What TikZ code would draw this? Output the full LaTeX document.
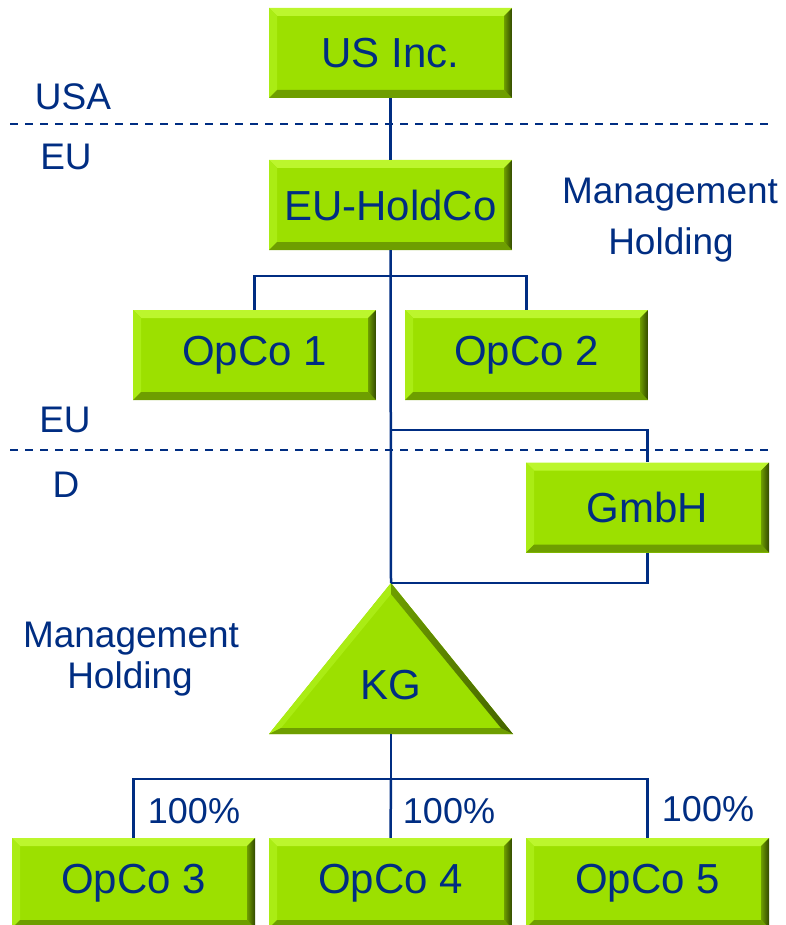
\documentclass[tikz,border=0pt]{standalone}
\usepackage{fontspec}
\setmainfont{Liberation Sans}
\usetikzlibrary{calc}
\definecolor{navy}{RGB}{0,45,130}
\definecolor{lime}{RGB}{156,224,0}
\definecolor{limelight}{RGB}{188,246,45}
\definecolor{limeleft}{RGB}{170,236,20}
\definecolor{limedark}{RGB}{50,72,0}
\definecolor{limebot}{RGB}{110,158,0}
\tikzset{
  bx/.style={minimum width=243pt, minimum height=90pt, inner sep=0pt, fill=lime, text=navy,
    font=\fontsize{42}{46}\selectfont,
    path picture={
      \coordinate (bnw) at (path picture bounding box.north west);
      \coordinate (bne) at (path picture bounding box.north east);
      \coordinate (bsw) at (path picture bounding box.south west);
      \coordinate (bse) at (path picture bounding box.south east);
      \fill[limelight] (bnw) -- (bne) -- ($(bne)+(-8pt,-8pt)$) -- ($(bnw)+(8pt,-8pt)$) -- cycle;
      \fill[limeleft] (bnw) -- ($(bnw)+(8pt,-8pt)$) -- ($(bsw)+(8pt,8pt)$) -- (bsw) -- cycle;
      \fill[limebot] (bsw) -- (bse) -- ($(bse)+(-8pt,8pt)$) -- ($(bsw)+(8pt,8pt)$) -- cycle;
      \shade[left color=limebot, right color=limedark] (bne) -- (bse) -- ($(bse)+(-8pt,8pt)$) -- ($(bne)+(-8pt,-8pt)$) -- cycle;
    }},
  lab/.style={text=navy, font=\fontsize{37}{42}\selectfont, inner sep=0pt, anchor=base},
  pct/.style={text=navy, font=\fontsize{36}{40}\selectfont, inner sep=0pt, anchor=base},
  conn/.style={draw=navy, line width=2.5pt},
  sep/.style={draw=navy, line width=2.3pt, dash pattern=on 8pt off 7pt}
}
\begin{document}
\begin{tikzpicture}[x=1pt,y=-1pt]
\useasboundingbox (0,0) rectangle (785,925);
% separators
\coordinate (s1a) at (10,124); \coordinate (s1b) at (770,124);
\coordinate (s2a) at (10,450); \coordinate (s2b) at (770,450);
\draw[sep] (s1a) -- (s1b);
\draw[sep] (s2a) -- (s2b);
% boxes
\node[bx] (us) at (390.5,53) {US Inc.};
\node[bx] (hold) at (390.5,205) {EU-HoldCo};
\node[bx] (op1) at (254.5,355) {OpCo 1};
\node[bx] (op2) at (526.5,355) {OpCo 2};
\node[bx] (gmbh) at (647.5,507.5) {GmbH};
\node[bx] (op3) at (133.5,883) {OpCo 3};
\node[bx] (op4) at (390.5,883) {OpCo 4};
\node[bx] (op5) at (647.5,883) {OpCo 5};
% KG triangle
\coordinate (kgapex) at (391,583);
\coordinate (kgl) at (269,734);
\coordinate (kgr) at (513,734);
\coordinate (kgbase) at (391,734);
\coordinate (ia) at (391,594);
\coordinate (il) at (281,728);
\coordinate (ir) at (501,728);
\fill[lime] (kgapex) -- (kgl) -- (kgr) -- cycle;
\fill[limeleft] (kgapex) -- (kgl) -- (il) -- (ia) -- cycle;
\fill[limebot] (kgl) -- (kgr) -- (ir) -- (il) -- cycle;
\shade[left color=limebot, right color=limedark!70!limebot] (kgapex) -- (kgr) -- (ir) -- (ia) -- cycle;
\node[text=navy, font=\fontsize{42}{46}\selectfont, inner sep=0pt] (kg) at (391,685) {KG};
% connectors
\coordinate (j1) at (391,276);
\coordinate (j2) at (391,430);
\coordinate (j3) at (391,779);
\draw[conn] (us.south) -- (hold.north);
\draw[conn] (hold.south) -- (kgapex);
\draw[conn] (op1.north) |- (j1) -| (op2.north);
\draw[conn] (j2) -| (gmbh.north);
\draw[conn] (gmbh.south) |- (kgapex);
\draw[conn] (kgbase) -- (j3);
\draw[conn] (op3.north) |- (j3) -| (op5.north);
\draw[conn] (j3) -- (op4.north);
% labels
\node[lab] (lusa) at (73,110) {USA};
\node[lab] (leu1) at (66,170) {EU};
\node[lab] (leu2) at (65,432) {EU};
\node[lab] (ld) at (66,497) {D};
\node[lab] (mgr1) at (670,204) {Management};
\node[lab] (mgr2) at (671,254) {Holding};
\node[lab] (mgl1) at (131,647) {Management};
\node[lab] (mgl2) at (130,688) {Holding};
\node[pct] (p3) at (194,823) {100\%};
\node[pct] (p4) at (449,823) {100\%};
\node[pct] (p5) at (708,821) {100\%};
\end{tikzpicture}
\end{document}
